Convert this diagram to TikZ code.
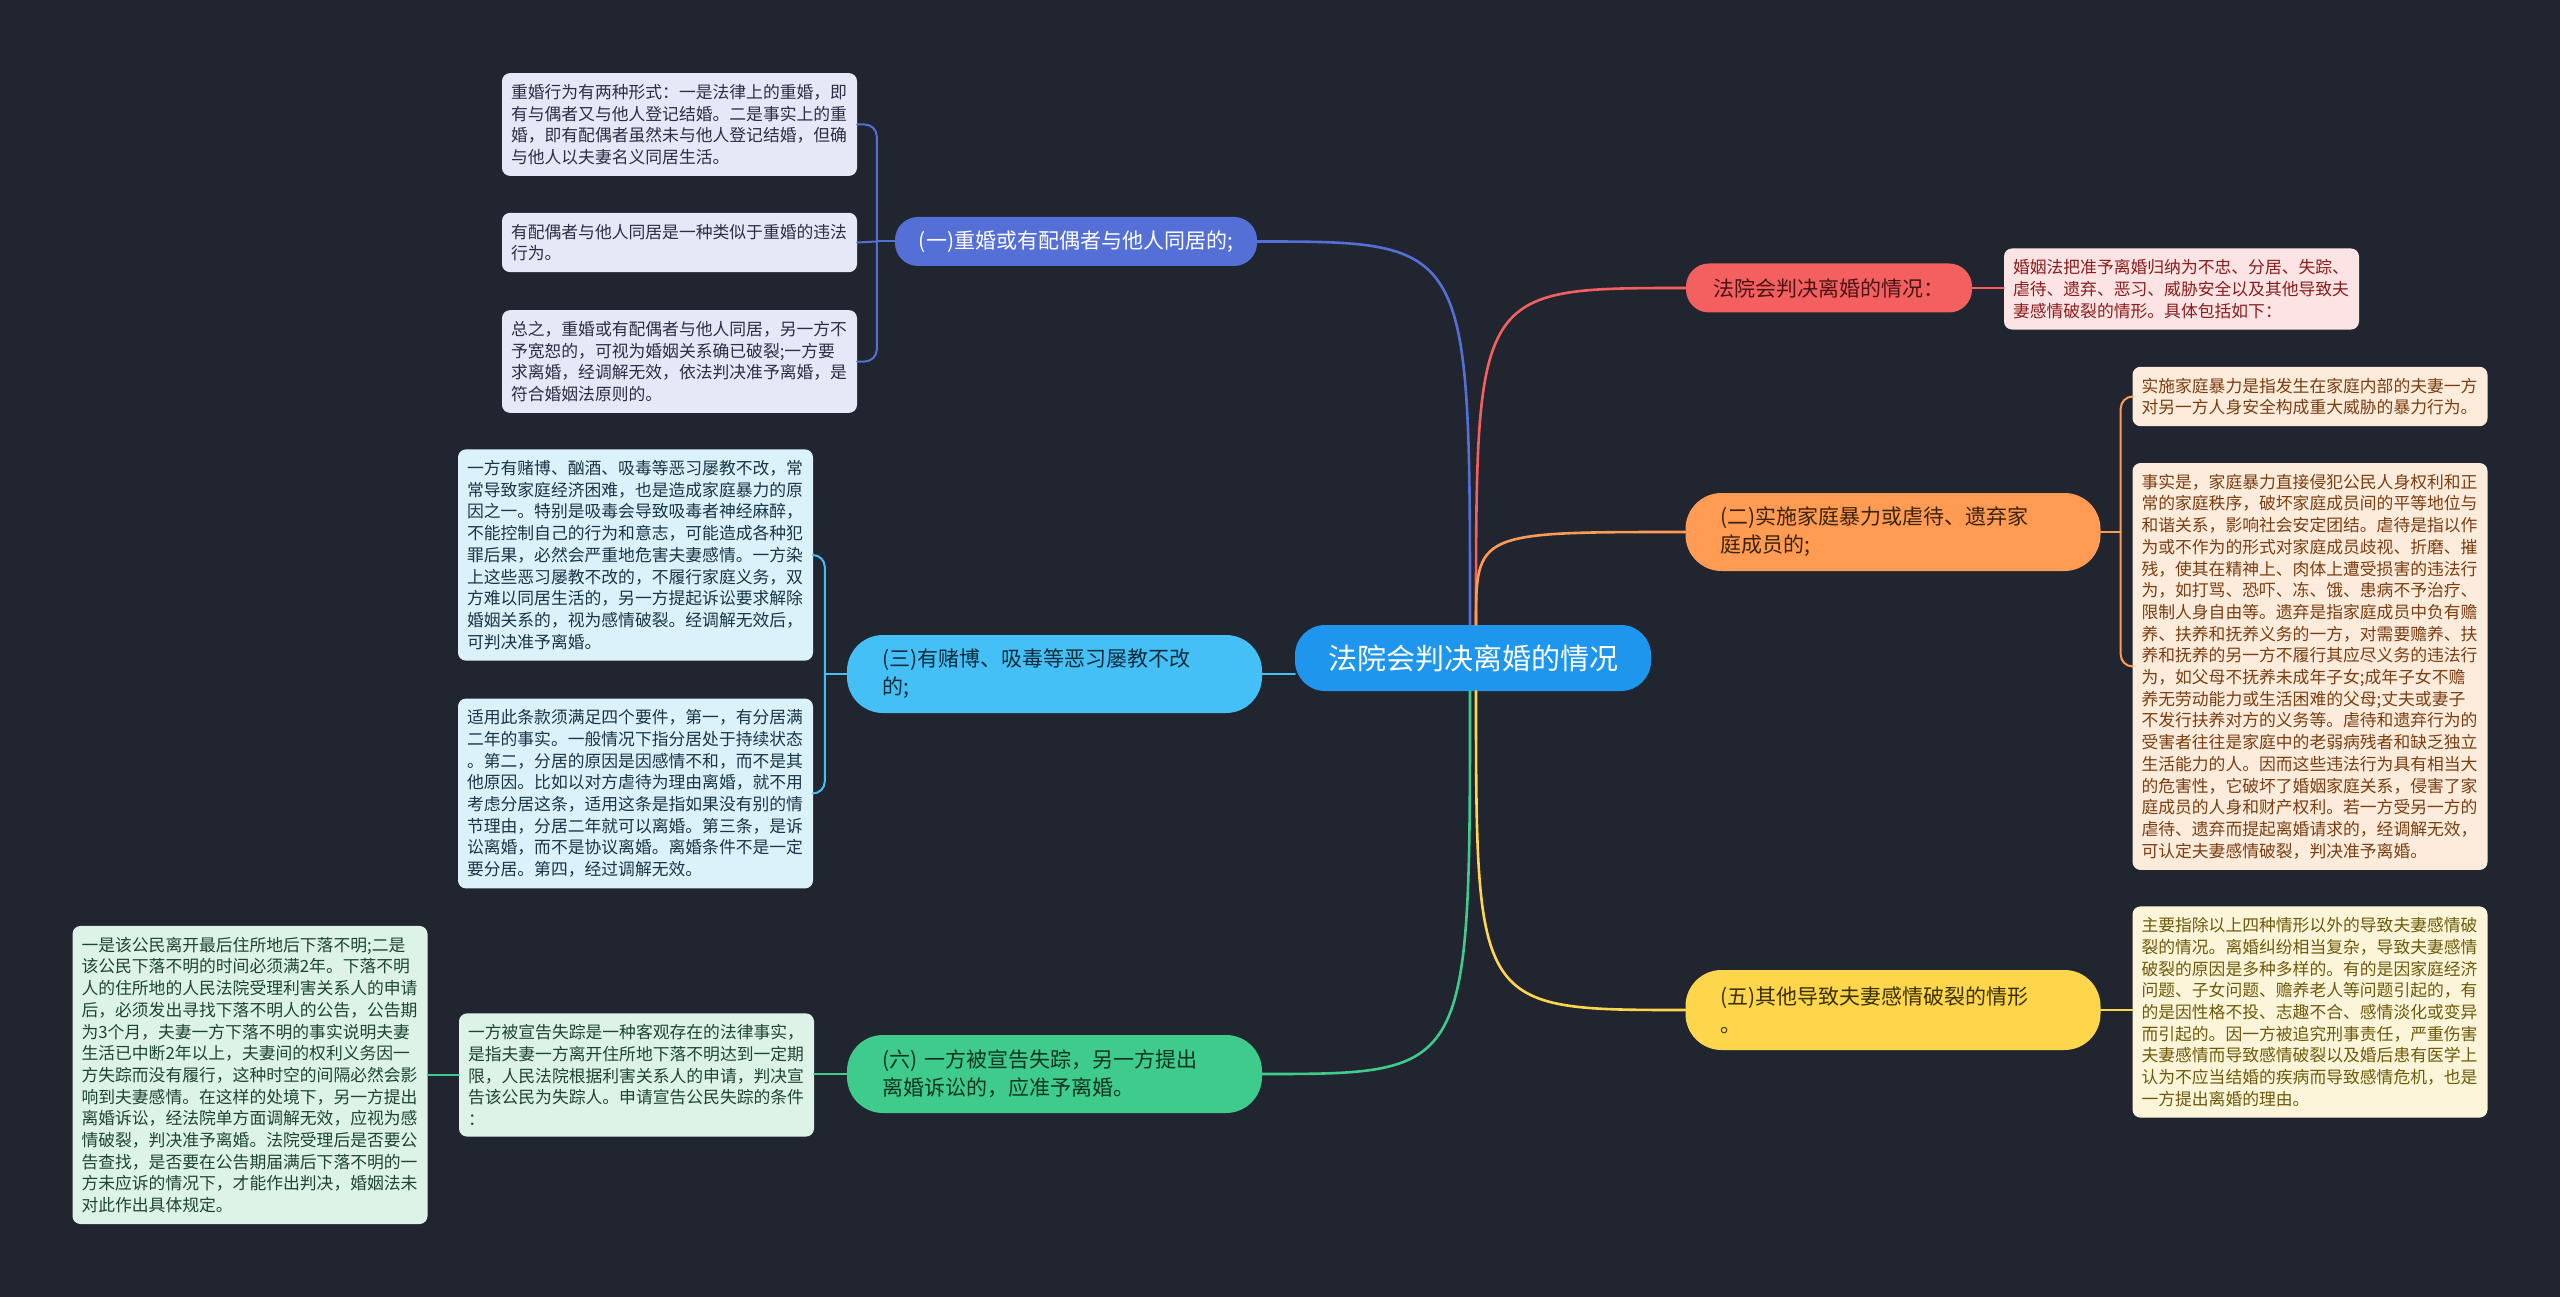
\documentclass[tikz,border=0pt]{standalone}
\usepackage{fontspec}
\setmainfont{Noto Sans CJK SC}
\usetikzlibrary{calc,positioning}
\definecolor{mapBg}{HTML}{21252F}
\definecolor{mapRoot}{HTML}{1F96EE}
\definecolor{mapViolet}{HTML}{5470D6}
\definecolor{mapVioletSoft}{HTML}{E6E8F7}
\definecolor{mapVioletInk}{HTML}{2B2F45}
\definecolor{mapRed}{HTML}{F45F5F}
\definecolor{mapRedInk}{HTML}{4A1414}
\definecolor{mapRedSoft}{HTML}{FDE4E4}
\definecolor{mapRedText}{HTML}{8A1C1C}
\definecolor{mapOrange}{HTML}{FF9B52}
\definecolor{mapOrangeInk}{HTML}{3B220C}
\definecolor{mapOrangeSoft}{HTML}{FDEBDC}
\definecolor{mapOrangeText}{HTML}{7A3E10}
\definecolor{mapSky}{HTML}{45C0F7}
\definecolor{mapSkyInk}{HTML}{0E2B3A}
\definecolor{mapSkySoft}{HTML}{DCF2FB}
\definecolor{mapSkyText}{HTML}{173647}
\definecolor{mapYellow}{HTML}{FDD64B}
\definecolor{mapYellowInk}{HTML}{3A3000}
\definecolor{mapYellowSoft}{HTML}{FCF5DA}
\definecolor{mapYellowText}{HTML}{6E5A0A}
\definecolor{mapGreen}{HTML}{3ECB8B}
\definecolor{mapGreenInk}{HTML}{0F3322}
\definecolor{mapGreenSoft}{HTML}{DDF3E7}
\definecolor{mapGreenText}{HTML}{1D4630}

\begin{document}
\begin{tikzpicture}[x=1pt,y=-1pt,line cap=round,line join=round]
\path[fill=mapBg] (0,0) rectangle (2560,1297);
\useasboundingbox (0,0) rectangle (2560,1297);
\tikzset{root/.style={fill=mapRoot,text=white,rounded corners=30pt,minimum width=356pt,minimum height=66pt,font=\fontsize{29}{34}\selectfont},
topic/.style={rounded corners=23pt,minimum height=49pt,inner xsep=24pt,font=\fontsize{21}{28}\selectfont},
topictwo/.style={rounded corners=36pt,minimum height=78pt,text width=345pt,align=left,inner xsep=35pt,font=\fontsize{21}{28}\selectfont},
leaf/.style={rounded corners=8pt,text width=337pt,align=left,inner xsep=9pt,inner ysep=11pt,font=\fontsize{16.8}{21.7}\selectfont},
link/.style={line width=2.6pt},twig/.style={line width=2pt,rounded corners=12pt}}
\node[root] (cen) at (1473,658) {法院会判决离婚的情况};
\node[topic,fill=mapViolet,text=white] (yi) at (1076,241.5) {(一)重婚或有配偶者与他人同居的;};
\node[topic,fill=mapRed,text=mapRedInk,minimum width=286pt] (fa) at (1829,288) {法院会判决离婚的情况：};
\node[topictwo,fill=mapOrange,text=mapOrangeInk] (er) at (1893,532) {(二)实施家庭暴力或虐待、遗弃家\\庭成员的;};
\node[topictwo,fill=mapSky,text=mapSkyInk] (san) at (1054.5,674) {(三)有赌博、吸毒等恶习屡教不改\\的;};
\node[topictwo,fill=mapYellow,text=mapYellowInk,minimum height=80pt] (wu) at (1893,1010) {(五)其他导致夫妻感情破裂的情形\\。};
\node[topictwo,fill=mapGreen,text=mapGreenInk] (liu) at (1054.5,1074) {(六) 一方被宣告失踪，另一方提出\\离婚诉讼的，应准予离婚。};
\node[leaf,fill=mapVioletSoft,text=mapVioletInk] (a1) at (679.5,124.5) {重婚行为有两种形式：一是法律上的重婚，即\\有与偶者又与他人登记结婚。二是事实上的重\\婚，即有配偶者虽然未与他人登记结婚，但确\\与他人以夫妻名义同居生活。};
\node[leaf,fill=mapVioletSoft,text=mapVioletInk] (a2) at (679.5,242.5) {有配偶者与他人同居是一种类似于重婚的违法\\行为。};
\node[leaf,fill=mapVioletSoft,text=mapVioletInk] (a3) at (679.5,361.5) {总之，重婚或有配偶者与他人同居，另一方不\\予宽恕的，可视为婚姻关系确已破裂;一方要\\求离婚，经调解无效，依法判决准予离婚，是\\符合婚姻法原则的。};
\node[leaf,fill=mapRedSoft,text=mapRedText] (r1) at (2181.5,289) {婚姻法把准予离婚归纳为不忠、分居、失踪、\\虐待、遗弃、恶习、威胁安全以及其他导致夫\\妻感情破裂的情形。具体包括如下：};
\node[leaf,fill=mapOrangeSoft,text=mapOrangeText] (b1) at (2310,396.5) {实施家庭暴力是指发生在家庭内部的夫妻一方\\对另一方人身安全构成重大威胁的暴力行为。};
\node[leaf,fill=mapOrangeSoft,text=mapOrangeText] (b2) at (2310,666.5) {事实是，家庭暴力直接侵犯公民人身权利和正\\常的家庭秩序，破坏家庭成员间的平等地位与\\和谐关系，影响社会安定团结。虐待是指以作\\为或不作为的形式对家庭成员歧视、折磨、摧\\残，使其在精神上、肉体上遭受损害的违法行\\为，如打骂、恐吓、冻、饿、患病不予治疗、\\限制人身自由等。遗弃是指家庭成员中负有赡\\养、扶养和抚养义务的一方，对需要赡养、扶\\养和抚养的另一方不履行其应尽义务的违法行\\为，如父母不抚养未成年子女;成年子女不赡\\养无劳动能力或生活困难的父母;丈夫或妻子\\不发行扶养对方的义务等。虐待和遗弃行为的\\受害者往往是家庭中的老弱病残者和缺乏独立\\生活能力的人。因而这些违法行为具有相当大\\的危害性，它破坏了婚姻家庭关系，侵害了家\\庭成员的人身和财产权利。若一方受另一方的\\虐待、遗弃而提起离婚请求的，经调解无效，\\可认定夫妻感情破裂，判决准予离婚。};
\node[leaf,fill=mapSkySoft,text=mapSkyText] (c1) at (635.5,555) {一方有赌博、酗酒、吸毒等恶习屡教不改，常\\常导致家庭经济困难，也是造成家庭暴力的原\\因之一。特别是吸毒会导致吸毒者神经麻醉，\\不能控制自己的行为和意志，可能造成各种犯\\罪后果，必然会严重地危害夫妻感情。一方染\\上这些恶习屡教不改的，不履行家庭义务，双\\方难以同居生活的，另一方提起诉讼要求解除\\婚姻关系的，视为感情破裂。经调解无效后，\\可判决准予离婚。};
\node[leaf,fill=mapSkySoft,text=mapSkyText] (c2) at (635.5,793.5) {适用此条款须满足四个要件，第一，有分居满\\二年的事实。一般情况下指分居处于持续状态\\。第二，分居的原因是因感情不和，而不是其\\他原因。比如以对方虐待为理由离婚，就不用\\考虑分居这条，适用这条是指如果没有别的情\\节理由，分居二年就可以离婚。第三条，是诉\\讼离婚，而不是协议离婚。离婚条件不是一定\\要分居。第四，经过调解无效。};
\node[leaf,fill=mapYellowSoft,text=mapYellowText] (e1) at (2310,1012) {主要指除以上四种情形以外的导致夫妻感情破\\裂的情况。离婚纠纷相当复杂，导致夫妻感情\\破裂的原因是多种多样的。有的是因家庭经济\\问题、子女问题、赡养老人等问题引起的，有\\的是因性格不投、志趣不合、感情淡化或变异\\而引起的。因一方被追究刑事责任，严重伤害\\夫妻感情而导致感情破裂以及婚后患有医学上\\认为不应当结婚的疾病而导致感情危机，也是\\一方提出离婚的理由。};
\node[leaf,fill=mapGreenSoft,text=mapGreenText] (f1) at (636.5,1075) {一方被宣告失踪是一种客观存在的法律事实，\\是指夫妻一方离开住所地下落不明达到一定期\\限，人民法院根据利害关系人的申请，判决宣\\告该公民为失踪人。申请宣告公民失踪的条件\\：};
\node[leaf,fill=mapGreenSoft,text=mapGreenText] (f2) at (250,1075) {一是该公民离开最后住所地后下落不明;二是\\该公民下落不明的时间必须满2年。下落不明\\人的住所地的人民法院受理利害关系人的申请\\后，必须发出寻找下落不明人的公告，公告期\\为3个月，夫妻一方下落不明的事实说明夫妻\\生活已中断2年以上，夫妻间的权利义务因一\\方失踪而没有履行，这种时空的间隔必然会影\\响到夫妻感情。在这样的处境下，另一方提出\\离婚诉讼，经法院单方面调解无效，应视为感\\情破裂，判决准予离婚。法院受理后是否要公\\告查找，是否要在公告期届满后下落不明的一\\方未应诉的情况下，才能作出判决，婚姻法未\\对此作出具体规定。};
\draw[link,draw=mapViolet] ([xshift=-3pt]cen.north) .. controls ([xshift=-3pt]cen.north |- yi.east) .. (yi.east);
\draw[link,draw=mapRed] ([xshift=3pt]cen.north) .. controls ([xshift=3pt]cen.north |- fa.west) .. (fa.west);
\draw[link,draw=mapOrange] ([xshift=3pt]cen.north) .. controls ([xshift=3pt]cen.north |- er.west) .. (er.west);
\draw[link,draw=mapSky] (san.east) -- (san.east -| cen.west);
\draw[link,draw=mapYellow] ([xshift=3pt]cen.south) .. controls ([xshift=3pt]cen.south |- wu.west) .. (wu.west);
\draw[link,draw=mapGreen] ([xshift=-3pt]cen.south) .. controls ([xshift=-3pt]cen.south |- liu.east) .. (liu.east);
\coordinate (j1) at ([xshift=-18pt]yi.west);
\coordinate (j2) at ([xshift=20pt]er.east);
\coordinate (j3) at ([xshift=-22pt]san.west);
\draw[twig,draw=mapViolet] (yi.west) -- (j1);
\draw[twig,draw=mapViolet] (j1) |- (a1.east);
\draw[twig,draw=mapViolet] (j1) -- (a2.east);
\draw[twig,draw=mapViolet] (j1) |- (a3.east);
\draw[twig,draw=mapRed] (fa.east) -- (fa.east -| r1.west);
\draw[twig,draw=mapOrange] (er.east) -- (j2);
\draw[twig,draw=mapOrange] (j2) |- (b1.west);
\draw[twig,draw=mapOrange] (j2) |- (b2.west);
\draw[twig,draw=mapSky] (san.west) -- (j3);
\draw[twig,draw=mapSky] (j3) |- (c1.east);
\draw[twig,draw=mapSky] (j3) |- (c2.east);
\draw[twig,draw=mapYellow] (wu.east) -- (wu.east -| e1.west);
\draw[twig,draw=mapGreen] (liu.west) -- (liu.west -| f1.east);
\draw[twig,draw=mapGreen] (f1.west) -- (f1.west -| f2.east);
\end{tikzpicture}
\end{document}
